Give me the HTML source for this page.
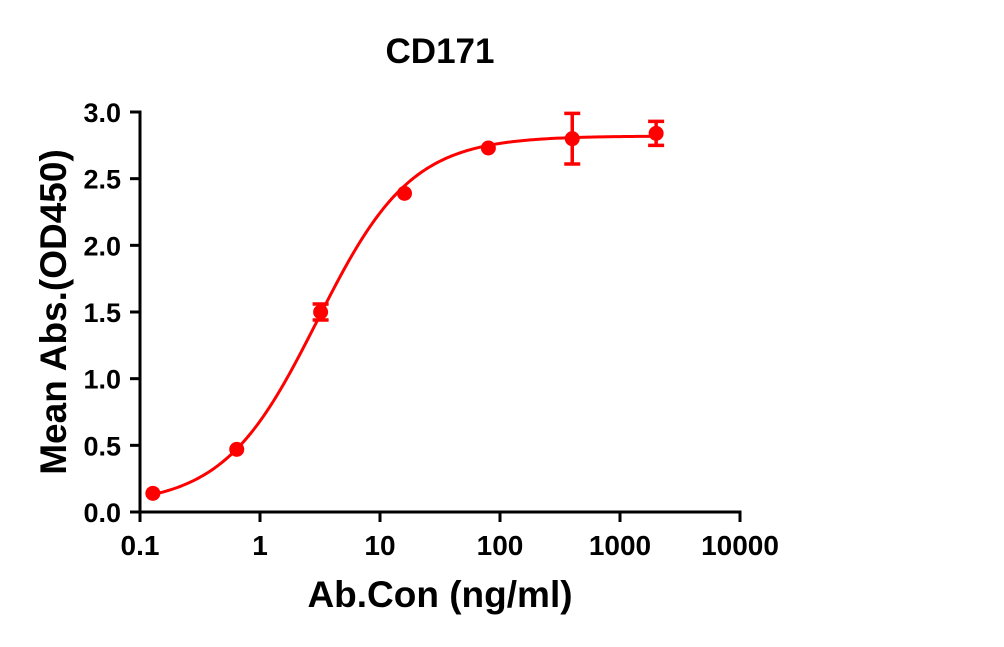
<!DOCTYPE html>
<html><head><meta charset="utf-8"><style>
body{margin:0;background:#fff;}
svg text{font-family:"Liberation Sans",Arial,sans-serif;font-weight:bold;fill:#000;}
</style></head><body>
<svg id="chart" width="1004" height="642" viewBox="0 0 1004 642">
<text x="440" y="63" font-size="35" text-anchor="middle">CD171</text>
<text transform="translate(66,312) rotate(-90)" font-size="37" text-anchor="middle">Mean Abs.(OD450)</text>
<text x="440" y="607" font-size="37" text-anchor="middle">Ab.Con (ng/ml)</text>
<g id="axes"></g>
<g id="marks"></g>
</svg>
<script>
const concentrations=[0.128,0.64,3.2,16,80,400,2000];
const meanAbs=[0.14,0.47,1.50,2.39,2.73,2.80,2.84];
const errors=[0.02,0.02,0.06,0.02,0.02,0.19,0.09];
const yTicks=[0,0.5,1.0,1.5,2.0,2.5,3.0];
const yTickLabels=["0.0","0.5","1.0","1.5","2.0","2.5","3.0"];
const xTicks=[0.1,1,10,100,1000,10000];
const xTickLabels=["0.1","1","10","100","1000","10000"];
const fitParams=[0.05,2.82,3.0,1.11]; // bottom, top, EC50, hill

const NS="http://www.w3.org/2000/svg";
const X0=140,X1=740,Y0=512,Y1=112;
function xs(v){return X0+(Math.log10(v)-Math.log10(0.1))/5*(X1-X0);}
function ys(v){return Y0-(v/3)*(Y0-Y1);}
function mk(tag,attrs,parent){const e=document.createElementNS(NS,tag);for(const k in attrs)e.setAttribute(k,attrs[k]);parent.appendChild(e);return e;}
const axes=document.getElementById('axes'),marks=document.getElementById('marks');

let yl=mk('line',{x1:X0,y1:Y1-1.5,x2:X0,y2:Y0+1.5,stroke:'#000','stroke-width':3},axes);


let xl=mk('line',{x1:X0-1.5,y1:Y0,x2:X1+1.5,y2:Y0,stroke:'#000','stroke-width':3},axes);


yTicks.forEach((v,i)=>{
 let t=mk('line',{x1:X0-10,y1:ys(v),x2:X0,y2:ys(v),stroke:'#000','stroke-width':3},axes);
 
 
 let l=mk('text',{x:X0-19,y:ys(v)+10,'font-size':27,'text-anchor':'end'},axes);
 l.textContent=yTickLabels[i];
 
 
});
xTicks.forEach((v,i)=>{
 let t=mk('line',{x1:xs(v),y1:Y0,x2:xs(v),y2:Y0+10,stroke:'#000','stroke-width':3},axes);
 
 
 let l=mk('text',{x:xs(v),y:Y0+43,'font-size':28,'text-anchor':'middle'},axes);
 l.textContent=xTickLabels[i];
 
 
});
const [b,tp,ec,h]=fitParams;
let d='';
const lo=Math.log10(concentrations[0]),hi=Math.log10(concentrations[concentrations.length-1]);
for(let i=0;i<=200;i++){const lx=lo+(hi-lo)*i/200,x=Math.pow(10,lx);const y=b+(tp-b)/(1+Math.pow(ec/x,h));d+=(i?'L':'M')+xs(x).toFixed(2)+','+ys(y).toFixed(2);}
let c=mk('path',{d:d,fill:'none',stroke:'#ff0000','stroke-width':3},marks);


concentrations.forEach((cx,i)=>{
 const x=xs(cx),y=ys(meanAbs[i]),e=errors[i];
 if(e>0.03){
  const g=mk('g',{stroke:'#ff0000','stroke-width':3.5},marks);
  
  
  mk('line',{x1:x,y1:ys(meanAbs[i]+e),x2:x,y2:ys(meanAbs[i]-e)},g);
  mk('line',{x1:x-8,y1:ys(meanAbs[i]+e),x2:x+8,y2:ys(meanAbs[i]+e)},g);
  mk('line',{x1:x-8,y1:ys(meanAbs[i]-e),x2:x+8,y2:ys(meanAbs[i]-e)},g);
 }
 let p=mk('circle',{cx:x,cy:y,r:7.5,fill:'#ff0000'},marks);
 
 
});
</script>
</body></html>
